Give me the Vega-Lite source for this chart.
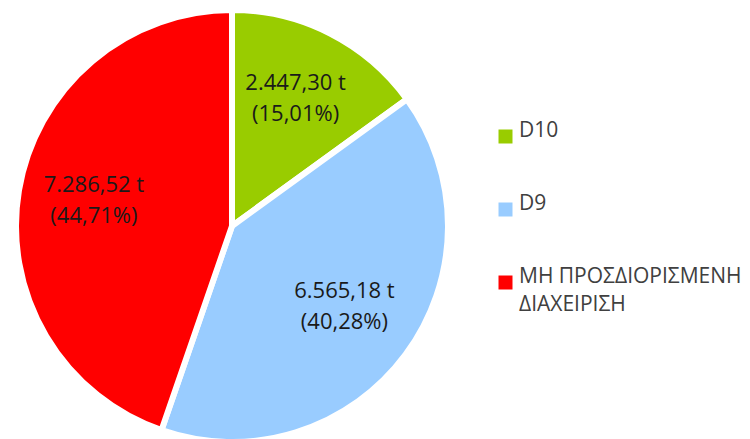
{
  "$schema": "https://vega.github.io/schema/vega-lite/v6.json",
  "width": 464,
  "height": 426,
  "padding": {"top": 13, "left": 0, "right": 286, "bottom": 0},
  "autosize": "none",
  "background": "white",
  "config": {
    "view": {"stroke": null},
    "style": {"guide-label": {"lineHeight": 28}},
    "locale": {"number": {"decimal": ",", "thousands": ".", "grouping": [3], "currency": ["", " €"]}}
  },
  "data": {
    "values": [
      {"category": "D10", "value": 2447.30, "percent": 15.01, "order": 1},
      {"category": "D9", "value": 6565.18, "percent": 40.28, "order": 2},
      {"category": "ΜΗ ΠΡΟΣΔΙΟΡΙΣΜΕΝΗ ΔΙΑΧΕΙΡΙΣΗ", "value": 7286.52, "percent": 44.71, "order": 3}
    ]
  },
  "transform": [
    {"calculate": "[format(datum.value, ',.2f') + ' t', '(' + format(datum.percent, '.2f') + '%)']", "as": "label"}
  ],
  "encoding": {
    "theta": {"field": "value", "type": "quantitative", "stack": true},
    "order": {"field": "order", "type": "quantitative"}
  },
  "layer": [
    {
      "mark": {"type": "arc", "radius": 216, "stroke": "white", "strokeWidth": 6, "strokeJoin": "miter"},
      "encoding": {
        "color": {
          "field": "category",
          "type": "nominal",
          "sort": ["D10", "D9", "ΜΗ ΠΡΟΣΔΙΟΡΙΣΜΕΝΗ ΔΙΑΧΕΙΡΙΣΗ"],
          "scale": {"domain": ["D10", "D9", "ΜΗ ΠΡΟΣΔΙΟΡΙΣΜΕΝΗ ΔΙΑΧΕΙΡΙΣΗ"], "range": ["#99CC00", "#99CCFF", "#FF0000"]},
          "legend": {
            "title": null,
            "orient": "none",
            "legendX": 495,
            "legendY": 113,
            "symbolType": "square",
            "symbolSize": 196,
            "symbolStrokeWidth": 0,
            "labelFont": "Open Sans",
            "labelFontSize": 21,
            "labelColor": "#404040",
            "labelOffset": 3,
            "labelLimit": 300,
            "rowPadding": 48,
            "labelBaseline": "alphabetic",
            "encode": {"labels": {"update": {"dy": {"value": 7}}}},
            "labelExpr": "datum.label == 'ΜΗ ΠΡΟΣΔΙΟΡΙΣΜΕΝΗ ΔΙΑΧΕΙΡΙΣΗ' ? ['ΜΗ ΠΡΟΣΔΙΟΡΙΣΜΕΝΗ', 'ΔΙΑΧΕΙΡΙΣΗ'] : datum.label"
          }
        }
      }
    },
    {
      "mark": {"type": "text", "radius": 140, "dy": -18, "font": "Open Sans", "fontSize": 22, "lineHeight": 31, "color": "#1a1a1a", "baseline": "middle"},
      "encoding": {
        "text": {"field": "label"}
      }
    }
  ]
}
